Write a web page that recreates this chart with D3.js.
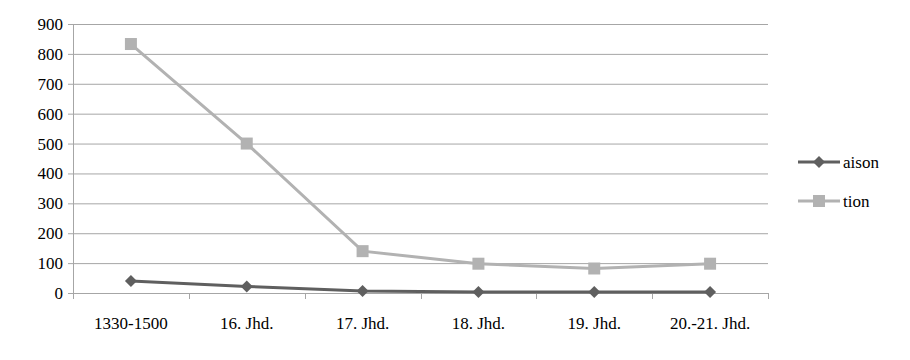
<!DOCTYPE html>
<html>
<head>
<meta charset="utf-8">
<script src="https://cdn.jsdelivr.net/npm/d3@7"></script>
<style>
svg text { font-family: "Liberation Serif", Tinos, "Times New Roman", serif; font-size: 17px; fill: #000; }
</style>
</head>
<body style="margin:0">
<svg id="chart"></svg>
<script>
var canvas_width = 910;
var canvas_height = 360;
var left_offset = 73;
var right_edge = 768;
var top_offset = 24;
var bottom_edge = 293;
var font = "Liberation Serif, Tinos, serif";

var categories = ["1330-1500", "16. Jhd.", "17. Jhd.", "18. Jhd.", "19. Jhd.", "20.-21. Jhd."];
var aison = [40, 22, 7, 3, 3, 3];
var tion = [833, 500, 140, 98, 82, 98];
var y_ticks = [0, 100, 200, 300, 400, 500, 600, 700, 800, 900];
var series_names = ["aison", "tion"];
var colour = ["#5f5f5f", "#b2b2b2"];

let svg = d3.select("#chart")
    .attr("width", canvas_width)
    .attr("height", canvas_height)
    .attr("font-family", font);

let x = d3.scaleBand().domain(categories).range([left_offset, right_edge]);
let y = d3.scaleLinear().domain([0, 900]).range([bottom_edge, top_offset]);

// gridlines
svg.selectAll(".grid")
    .data(y_ticks.filter(d => d > 0))
    .join("line")
    .attr("class", "grid")
    .attr("x1", left_offset)
    .attr("x2", right_edge)
    .attr("y1", d => y(d) + 0.5)
    .attr("y2", d => y(d) + 0.5)
    .attr("stroke", "#a6a6a6");

// y axis line + ticks
svg.append("line")
    .attr("x1", left_offset + 0.5).attr("x2", left_offset + 0.5)
    .attr("y1", top_offset).attr("y2", bottom_edge + 1)
    .attr("stroke", "#a6a6a6");
svg.selectAll(".ytick")
    .data(y_ticks)
    .join("line")
    .attr("class", "ytick")
    .attr("x1", left_offset - 5)
    .attr("x2", left_offset)
    .attr("y1", d => y(d) + 0.5)
    .attr("y2", d => y(d) + 0.5)
    .attr("stroke", "#a6a6a6");
svg.selectAll(".ylabel")
    .data(y_ticks)
    .join("text")
    .attr("class", "ylabel")
    .attr("x", left_offset - 10)
    .attr("y", d => y(d) + 6)
    .attr("text-anchor", "end")
    .style("font-family", font)
    .text(d => d);

// x axis
svg.append("line")
    .attr("x1", left_offset).attr("x2", right_edge + 1)
    .attr("y1", bottom_edge + 0.5).attr("y2", bottom_edge + 0.5)
    .attr("stroke", "#a6a6a6");
let bounds = categories.map(c => x(c)).concat([right_edge]);
svg.selectAll(".xtick")
    .data(bounds)
    .join("line")
    .attr("class", "xtick")
    .attr("x1", d => Math.round(d) + 0.5)
    .attr("x2", d => Math.round(d) + 0.5)
    .attr("y1", bottom_edge)
    .attr("y2", bottom_edge + 6)
    .attr("stroke", "#a6a6a6");
svg.selectAll(".xlabel")
    .data(categories)
    .join("text")
    .attr("class", "xlabel")
    .attr("x", d => x(d) + x.bandwidth() / 2)
    .attr("y", bottom_edge + 36)
    .attr("text-anchor", "middle")
    .style("font-family", font)
    .text(d => d);

let all_series = [aison, tion];
let line = d3.line()
    .x((d, i) => x(categories[i]) + x.bandwidth() / 2)
    .y(d => y(d));

all_series.forEach((s, k) => {
    svg.append("path")
        .datum(s)
        .attr("d", line)
        .attr("fill", "none")
        .attr("stroke", colour[k])
        .attr("stroke-width", 3);
});

// markers
function draw_marker(g, k, cx, cy) {
    if (k == 0) {
        g.append("path")
            .attr("d", "M" + cx + "," + (cy - 6) + "L" + (cx + 6) + "," + cy + "L" + cx + "," + (cy + 6) + "L" + (cx - 6) + "," + cy + "Z")
            .attr("fill", colour[0]);
    } else {
        g.append("rect")
            .attr("x", cx - 6).attr("y", cy - 6)
            .attr("width", 12).attr("height", 12)
            .attr("fill", colour[1]);
    }
}

let markers = svg.append("g");
all_series.forEach((s, k) => {
    s.forEach((v, i) => {
        draw_marker(markers, k, x(categories[i]) + x.bandwidth() / 2, y(v));
    });
});

// legend
let legend_y = [162, 201];
let legend = svg.append("g");
series_names.forEach((name, k) => {
    legend.append("line")
        .attr("x1", 798).attr("x2", 840)
        .attr("y1", legend_y[k]).attr("y2", legend_y[k])
        .attr("stroke", colour[k])
        .attr("stroke-width", 3);
    draw_marker(legend, k, 819, legend_y[k]);
    legend.append("text")
        .attr("x", 843)
        .attr("y", legend_y[k] + 6)
        .style("font-family", font)
        .text(name);
});
</script>
</body>
</html>
